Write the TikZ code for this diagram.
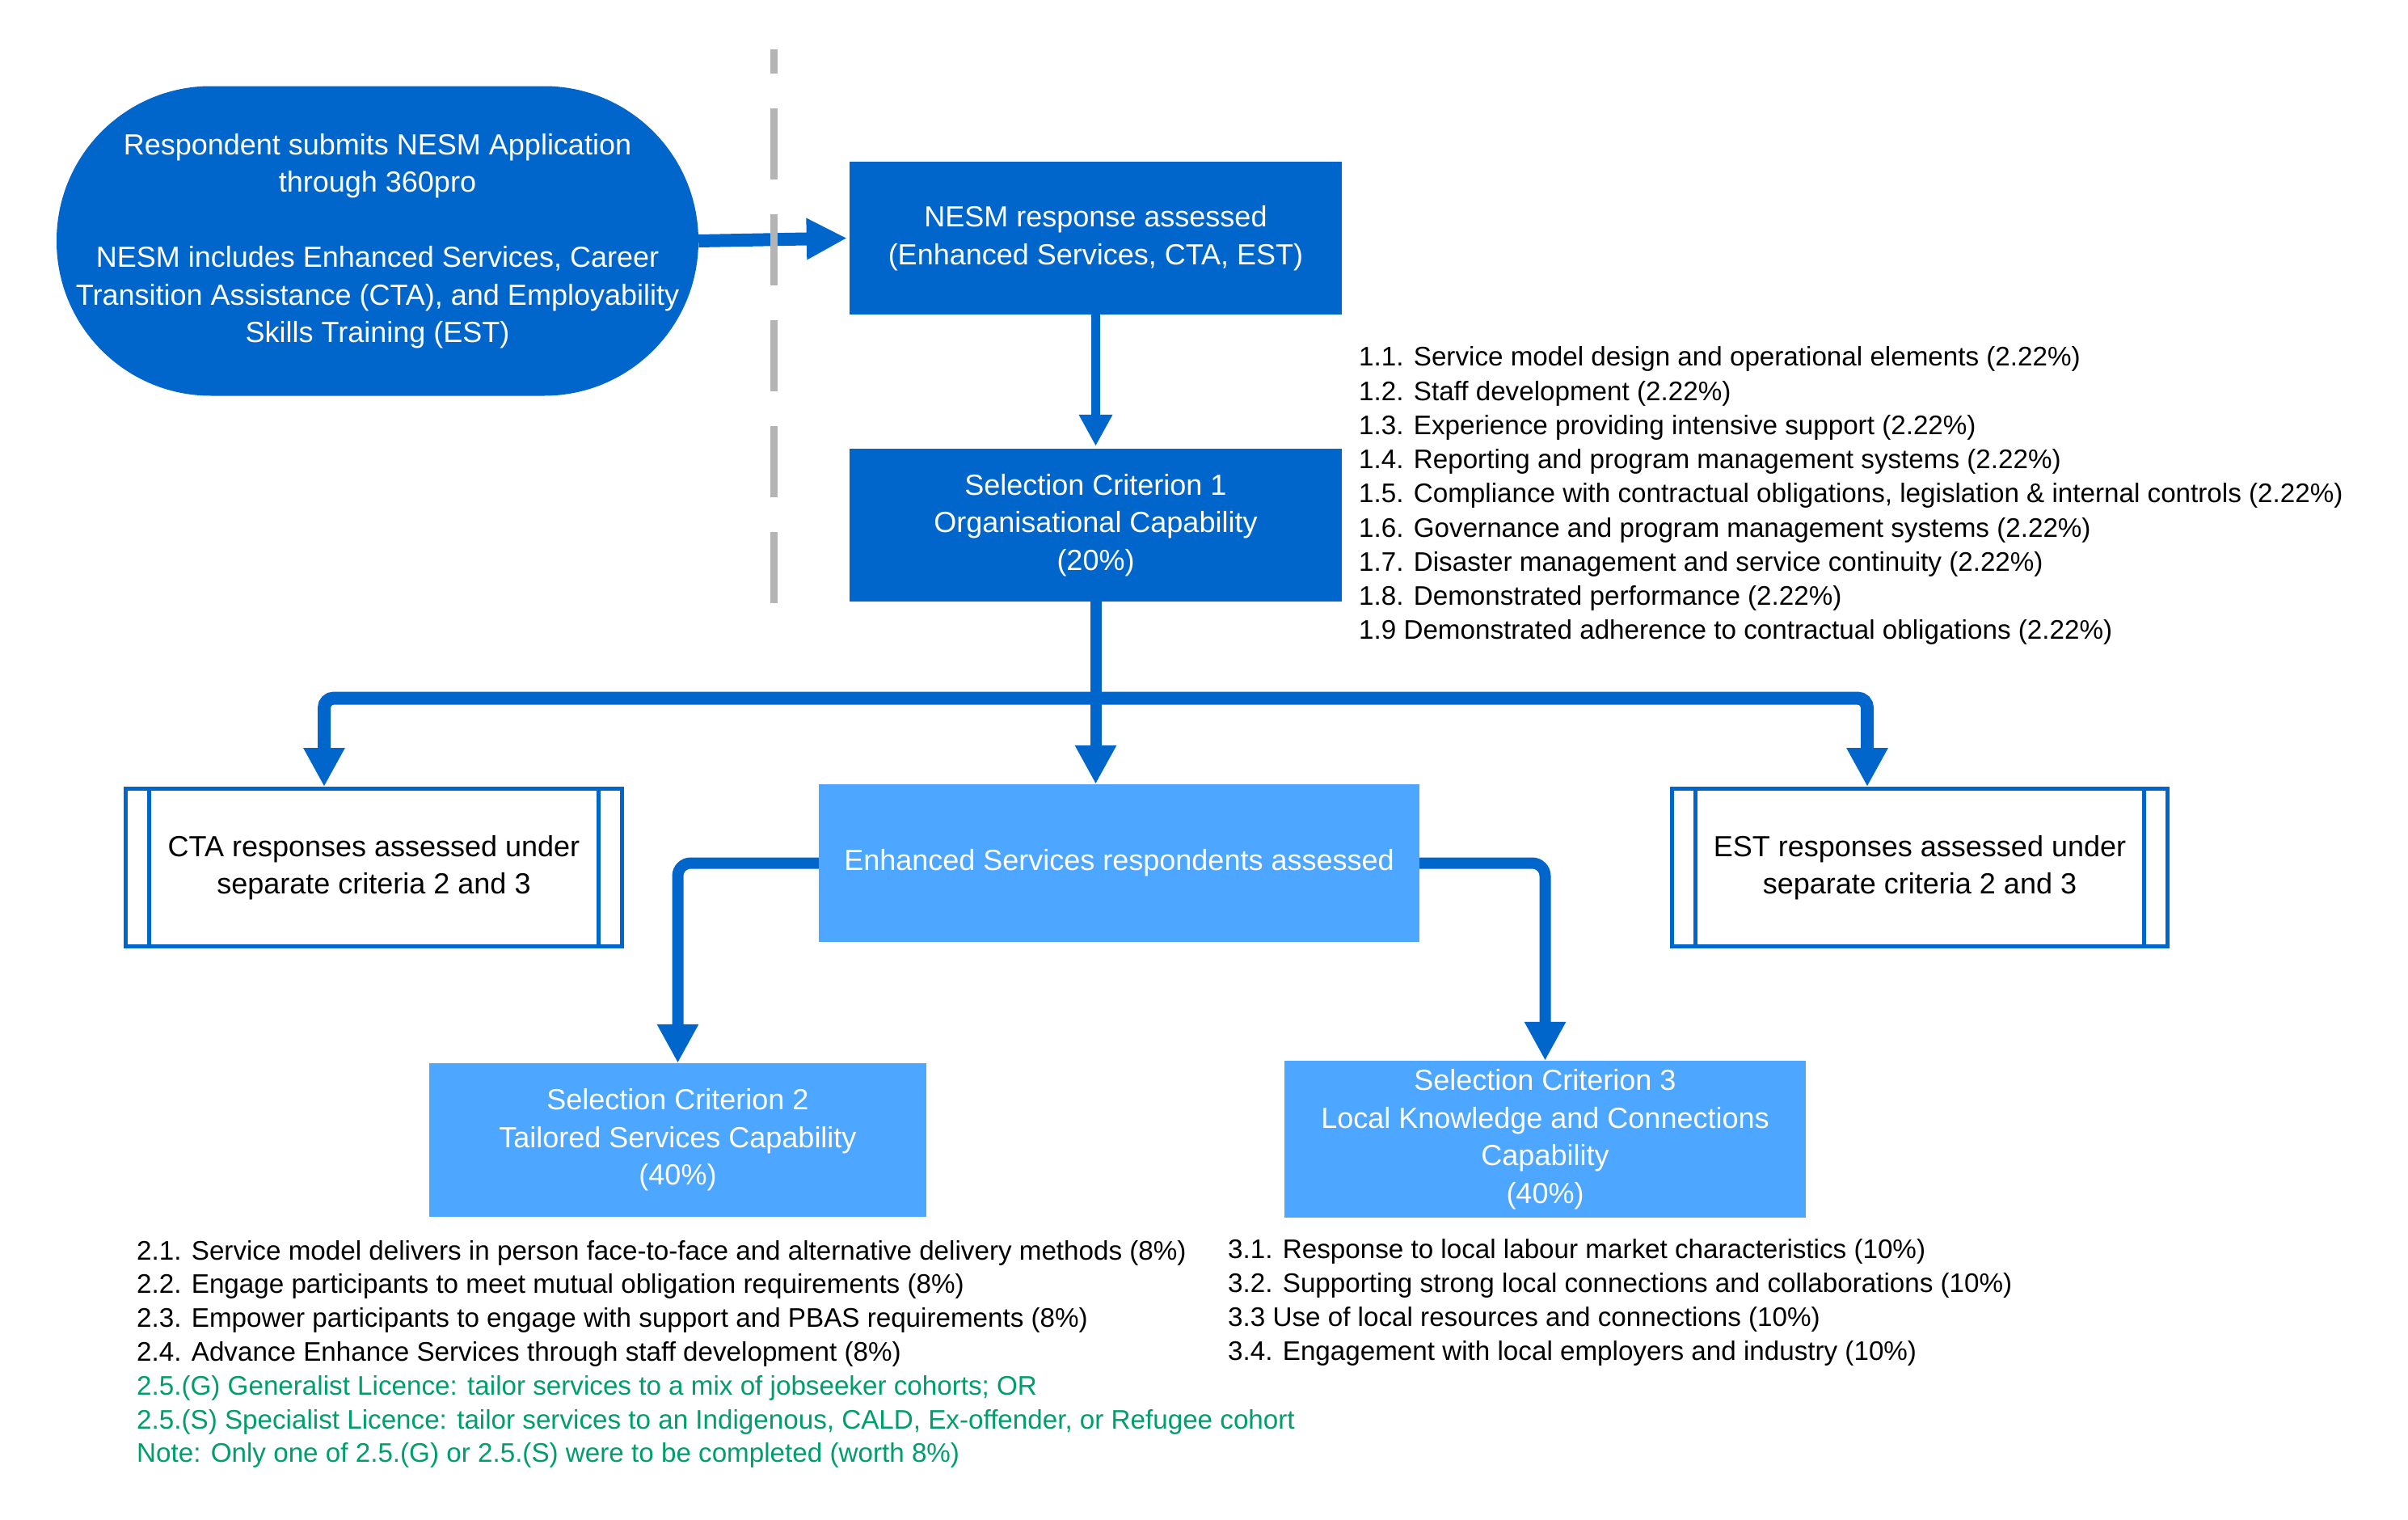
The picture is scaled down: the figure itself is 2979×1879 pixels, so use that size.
\documentclass[tikz,border=0pt]{standalone}
\usepackage{fontspec}
\setmainfont{Liberation Sans}
\usetikzlibrary{arrows.meta}
\definecolor{dblue}{HTML}{0066CC}
\definecolor{lblue}{HTML}{4DA6FF}
\definecolor{grn}{RGB}{0,158,108}
\definecolor{dgray}{RGB}{180,180,180}
\newcommand\bxfont{\fontsize{36}{46.5}\selectfont}
\newcommand\lsfont{\fontsize{33.2}{42.3}\selectfont}
\begin{document}
\begin{tikzpicture}[x=1pt,y=-1pt,
 dbox/.style={fill=dblue, text=white, inner sep=0pt, align=center, font=\bxfont},
 lbox/.style={fill=lblue, text=white, inner sep=0pt, align=center, font=\bxfont},
 pbox/.style={draw=dblue, line width=5pt, fill=white, text=black, inner sep=0pt, align=center, font=\bxfont},
 conn/.style={draw=dblue, line width=15pt, -{Triangle[width=48pt,length=48pt]}},
 li/.style={anchor=base west, inner sep=0pt, font=\lsfont, text=black},
 lg/.style={li, text=grn},
 dashln/.style={draw=dgray, line width=9pt, dash pattern=on 88pt off 43pt, dash phase=58pt},
 sidebar/.style={draw=dblue, line width=5pt}
]
\path[fill=white] (0,0) rectangle (2979,1879);
\useasboundingbox (0,0) rectangle (2979,1879);

% nodes
\node[dbox, minimum width=794pt, minimum height=383pt, rounded corners=191pt] (ell) at (467,298)
 {Respondent submits NESM Application\\through 360pro\\[46.5pt]NESM includes Enhanced Services, Career\\Transition Assistance (CTA), and Employability\\Skills Training (EST)};
\node[dbox, minimum width=609pt, minimum height=189pt] (nesm) at (1355.5,294.5)
 {NESM response assessed\\(Enhanced Services, CTA, EST)};
\node[dbox, minimum width=609pt, minimum height=189pt] (sc1) at (1355.5,649.5)
 {Selection Criterion 1\\Organisational Capability\\(20\%)};
\node[pbox, minimum width=614pt, minimum height=195pt] (cta) at (462.5,1073)
 {CTA responses assessed under\\separate criteria 2 and 3};
\node[pbox, minimum width=613pt, minimum height=195pt] (est) at (2375,1073)
 {EST responses assessed under\\separate criteria 2 and 3};
\node[lbox, minimum width=743pt, minimum height=195pt] (es) at (1384.5,1067.5)
 {Enhanced Services respondents assessed};
\node[lbox, minimum width=615pt, minimum height=190pt] (sc2) at (838.5,1410)
 {Selection Criterion 2\\Tailored Services Capability\\(40\%)};
\node[lbox, minimum width=645pt, minimum height=194pt] (sc3) at (1911.5,1409)
 {Selection Criterion 3\\Local Knowledge and Connections\\Capability\\(40\%)};

% side bars of the process boxes
\draw[sidebar] ([xshift=31.5pt]cta.north west) -- ([xshift=31.5pt]cta.south west);
\draw[sidebar] ([xshift=-31.5pt]cta.north east) -- ([xshift=-31.5pt]cta.south east);
\draw[sidebar] ([xshift=31.5pt]est.north west) -- ([xshift=31.5pt]est.south west);
\draw[sidebar] ([xshift=-31.5pt]est.north east) -- ([xshift=-31.5pt]est.south east);

% connectors
\coordinate (busM) at (1355.5,863.5);
\coordinate (busL) at (401,863.5);
\coordinate (busR) at (2310,863.5);
\draw[conn, line width=16pt, -{Triangle[width=48pt,length=50pt]}, shorten >=3pt] (ell.east) -- (nesm.west);
\draw[conn, line width=11pt, -{Triangle[width=39pt,length=39pt]}, shorten >=3pt] (nesm.south) -- (sc1.north);
\draw[conn, line width=14pt] (sc1.south) -- (sc1.south |- es.north);
\draw[conn, line width=16pt, rounded corners=12pt] (busM) -- (busL) -- (busL |- cta.north);
\draw[conn, line width=16pt, rounded corners=12pt] (busM) -- (busR) -- (busR |- est.north);
\draw[conn, line width=14pt, rounded corners=16pt] (es.west) -- (es.west -| sc2.north) -- (sc2.north);
\draw[conn, line width=14pt, rounded corners=16pt] (es.east) -- (es.east -| sc3.north) -- (sc3.north);

% dashed divider
\coordinate (dtop) at (957.5,61);
\coordinate (dbot) at (957.5,747);
\draw[dashln] (dtop) -- (dbot);

% criterion 1 list
\node[li] (a1) at (1681,452.7) {1.1. Service model design and operational elements (2.22\%)};
\node[li] (a2) at (1681,495.0) {1.2. Staff development (2.22\%)};
\node[li] (a3) at (1681,537.3) {1.3. Experience providing intensive support (2.22\%)};
\node[li] (a4) at (1681,579.6) {1.4. Reporting and program management systems (2.22\%)};
\node[li] (a5) at (1681,621.9) {1.5. Compliance with contractual obligations, legislation \& internal controls (2.22\%)};
\node[li] (a6) at (1681,664.2) {1.6. Governance and program management systems (2.22\%)};
\node[li] (a7) at (1681,706.5) {1.7. Disaster management and service continuity (2.22\%)};
\node[li] (a8) at (1681,748.8) {1.8. Demonstrated performance (2.22\%)};
\node[li] (a9) at (1681,790.0) {1.9 Demonstrated adherence to contractual obligations (2.22\%)};

% criterion 2 list
\node[li] (b1) at (169,1558) {2.1. Service model delivers in person face-to-face and alternative delivery methods (8\%)};
\node[li] (b2) at (169,1599.8) {2.2. Engage participants to meet mutual obligation requirements (8\%)};
\node[li] (b3) at (169,1641.6) {2.3. Empower participants to engage with support and PBAS requirements (8\%)};
\node[li] (b4) at (169,1683.4) {2.4. Advance Enhance Services through staff development (8\%)};
\node[lg] (b5) at (169,1725.2) {2.5.(G) Generalist Licence: tailor services to a mix of jobseeker cohorts; OR};
\node[lg] (b6) at (169,1767.0) {2.5.(S) Specialist Licence: tailor services to an Indigenous, CALD, Ex-offender, or Refugee cohort};
\node[lg] (b7) at (169,1808.8) {Note: Only one of 2.5.(G) or 2.5.(S) were to be completed (worth 8\%)};

% criterion 3 list
\node[li] (c1) at (1519,1556) {3.1. Response to local labour market characteristics (10\%)};
\node[li] (c2) at (1519,1598.3) {3.2. Supporting strong local connections and collaborations (10\%)};
\node[li] (c3) at (1519,1640.6) {3.3 Use of local resources and connections (10\%)};
\node[li] (c4) at (1519,1682.9) {3.4. Engagement with local employers and industry (10\%)};
\end{tikzpicture}
\end{document}
